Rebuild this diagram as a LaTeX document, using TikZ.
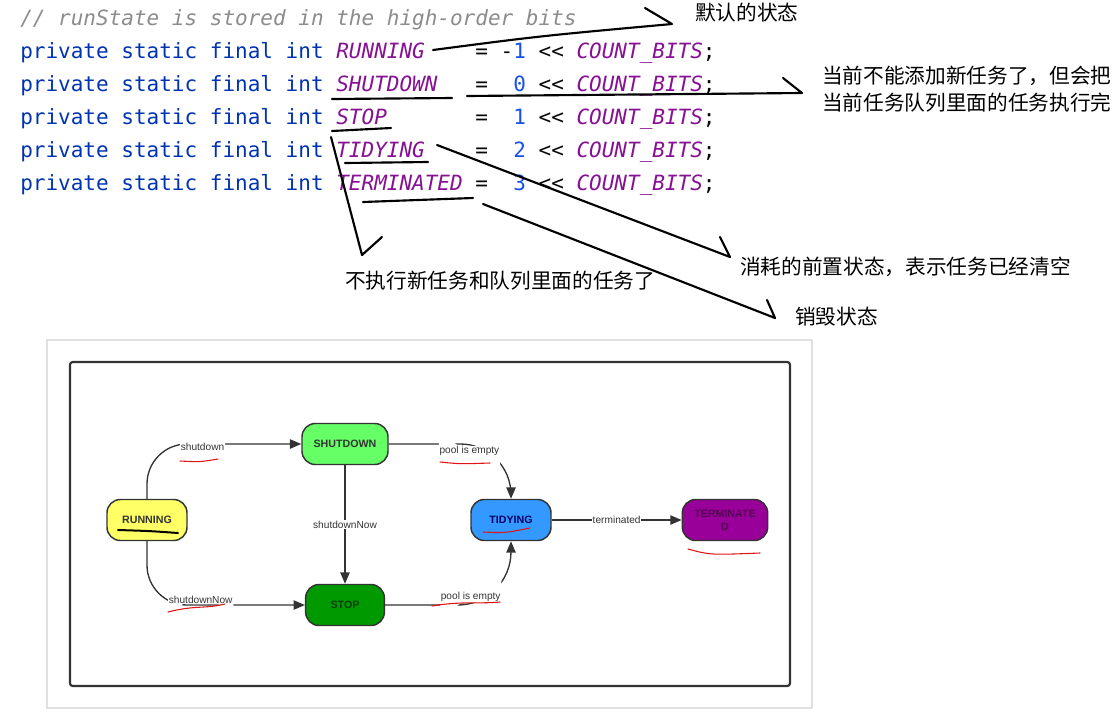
\documentclass[tikz,border=0pt]{standalone}
\usepackage{fontspec}
\setmainfont{Liberation Sans}
\newfontfamily\codefont{DejaVu Sans Mono}
\newfontfamily\cjk{Noto Sans CJK SC}
\usetikzlibrary{arrows.meta}
\definecolor{kwc}{RGB}{0,51,179}
\definecolor{cnc}{RGB}{135,16,148}
\definecolor{nmc}{RGB}{23,80,235}
\definecolor{cmc}{RGB}{140,140,140}
\definecolor{opc}{RGB}{8,8,8}
\definecolor{dg}{RGB}{51,51,51}
\definecolor{yel}{RGB}{255,255,102}
\definecolor{lgreen}{RGB}{102,255,102}
\definecolor{dgreen}{RGB}{0,153,0}
\definecolor{blu}{RGB}{51,153,255}
\definecolor{purp}{RGB}{153,0,153}
\definecolor{redm}{RGB}{225,20,20}
\newcommand\ckw[1]{{\color{kwc}#1}}
\newcommand\ccn[1]{{\itshape\color{cnc}#1}}
\newcommand\cnum[1]{{\color{nmc}#1}}
\newcommand\cop[1]{{\color{opc}#1}}
\newcommand\cbits{\ccn{COUNT{\char"5F}BITS}}
\begin{document}
\begin{tikzpicture}[x=0.75pt,y=-0.75pt,
  codeln/.style={anchor=base west, inner sep=0pt, font=\codefont\fontsize{15.75}{18}\selectfont},
  cjktext/.style={anchor=west, inner sep=0pt, font=\cjk\fontsize{15.5}{20.25}\selectfont, text=black},
  hand/.style={line width=1.6pt, line cap=round, line join=round, black},
  st/.style={draw=dg, line width=1.1pt, rounded corners=10pt, minimum height=30.75pt, font=\fontsize{8}{9}\selectfont\bfseries, inner sep=1pt, text=dg},
  edge/.style={draw=dg, line width=1pt, -{Triangle[length=8.5pt,width=7pt]}},
  lbl/.style={font=\fontsize{7.6}{8}\selectfont, text=dg, fill=white, inner sep=0.6pt},
  redmark/.style={redm, line width=0.8pt, line cap=round}]
\useasboundingbox (0,0) rectangle (1120,715);
\fill[white] (0,0) rectangle (1120,715);

% ---- code ----
\node[codeln] (c0) at (20,25) {\color{cmc}\itshape // runState is stored in the high-order bits};
\node[codeln] (c1) at (20,58) {\ckw{private static final int }\ccn{RUNNING}~~~~\cop{= -}\cnum{1}~\cop{<<}~\cbits\cop{;}};
\node[codeln] (c2) at (20,91) {\ckw{private static final int }\ccn{SHUTDOWN}~~~\cop{=}~~\cnum{0}~\cop{<<}~\cbits\cop{;}};
\node[codeln] (c3) at (20,124) {\ckw{private static final int }\ccn{STOP}~~~~~~~\cop{=}~~\cnum{1}~\cop{<<}~\cbits\cop{;}};
\node[codeln] (c4) at (20,157) {\ckw{private static final int }\ccn{TIDYING}~~~~\cop{=}~~\cnum{2}~\cop{<<}~\cbits\cop{;}};
\node[codeln] (c5) at (20,190) {\ckw{private static final int }\ccn{TERMINATED}~\cop{=}~~\cnum{3}~\cop{<<}~\cbits\cop{;}};

% ---- annotations text ----
\node[cjktext] (n1) at (695,13) {默认的状态};
\node[cjktext, align=left] (n2) at (822,89.5) {当前不能添加新任务了，但会把\\当前任务队列里面的任务执行完};
\node[cjktext] (n3) at (345,281) {不执行新任务和队列里面的任务了};
\node[cjktext] (n4) at (740,267) {消耗的前置状态，表示任务已经清空};
\node[cjktext] (n5) at (795,317) {销毁状态};

% ---- hand-drawn marks ----
\coordinate (a1s) at (433,50); \coordinate (a1e) at (672,24); \coordinate (a1h) at (645,8);
\draw[hand] (a1s) .. controls (540,36) .. (a1e) -- (a1h);
\draw[hand] (332,99) -- (452,98);
\coordinate (a2s) at (467,96); \coordinate (a2e) at (802,93); \coordinate (a2h) at (783,78);
\draw[hand] (a2s) -- (a2e) -- (a2h);
\draw[hand] (332,131) -- (391,128);
\coordinate (a3s) at (331,137); \coordinate (a3e) at (362,255); \coordinate (a3h) at (382,237);
\draw[hand] (a3s) -- (a3e) -- (a3h);
\draw[hand] (345,163) -- (428,162);
\coordinate (a4s) at (437,145); \coordinate (a4e) at (730,257); \coordinate (a4h) at (720,237);
\draw[hand] (a4s) -- (a4e) -- (a4h);
\draw[hand] (363,202) -- (473,198);
\coordinate (a5s) at (483,204); \coordinate (a5e) at (775,318); \coordinate (a5h) at (767,300);
\draw[hand] (a5s) -- (a5e) -- (a5h);

% ---- state diagram ----
\draw[black!12, line width=0.8pt] (47,340) rectangle (812,708);
\draw[dg, line width=1.6pt, rounded corners=2pt] (70,362) rectangle (790,686);

\node[st, fill=yel, minimum width=60pt] (run) at (147,520) {RUNNING};
\node[st, fill=lgreen, minimum width=64.5pt] (sd) at (345,444) {SHUTDOWN};
\node[st, fill=dgreen, minimum width=59pt, text=black!75!green] (stop) at (345,605) {STOP};
\node[st, fill=blu, minimum width=60pt, text=blue!40!black] (tid) at (511,520) {TIDYING};
\node[st, fill=purp, minimum width=64pt, align=center, text=purp!55!black, font=\fontsize{8}{10}\selectfont\bfseries] (term) at (725,520) {TERMINATE\\D};

\draw[edge, rounded corners=30pt] (run.north) |- node[lbl, pos=0.68, yshift=-2.5pt] {shutdown} (sd.west);
\draw[edge, rounded corners=30pt] (run.south) |- node[lbl, pos=0.67, yshift=4pt] {shutdownNow} (stop.west);
\draw[edge] (sd.south) -- node[lbl] {shutdownNow} (stop.north);
\draw[edge, rounded corners=38pt] (sd.east) -| node[lbl, pos=0.33, yshift=-5.5pt] {pool is empty} (tid.north);
\draw[edge, rounded corners=40pt] (stop.east) -| node[lbl, pos=0.34, yshift=6pt] {pool is empty} (tid.south);
\draw[edge] (tid.east) -- node[lbl] {terminated} (term.west);

% hand underlines in the diagram
\draw[line width=1.5pt, line cap=round, black] (118,530) .. controls (150,531) .. (178,533);
\draw[redmark] (180,461) .. controls (200,462) .. (218,459);
\draw[redmark] (168,612) .. controls (195,605) and (205,609) .. (225,604);
\draw[redmark] (440,462) .. controls (460,464) .. (490,463);
\draw[redmark] (432,606) .. controls (460,601) and (480,604) .. (500,602);
\draw[redmark] (483,532) .. controls (505,533) .. (530,528);
\draw[redmark] (688,549) .. controls (710,555) .. (760,553);
\end{tikzpicture}
\end{document}
